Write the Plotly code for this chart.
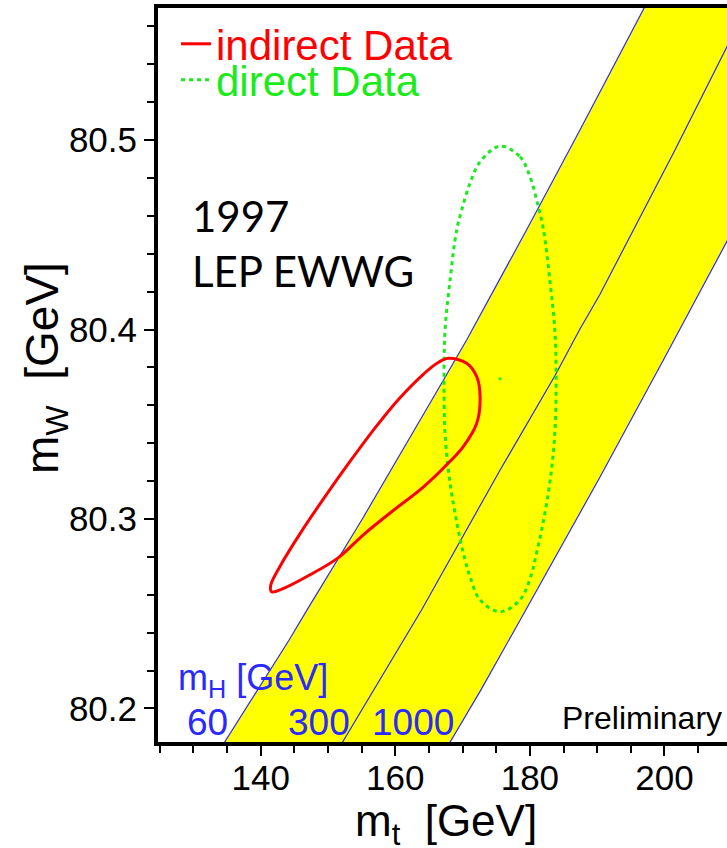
import plotly.graph_objects as go

# ---- data -------------------------------------------------------------
# SM prediction bands: m_t (GeV) along each m_H line at the listed m_W (GeV)
mh60_mt = [131.8, 134.6, 144.2, 146.8, 155.1, 163.4, 167.1, 170.6, 179.5, 187.4, 192.9, 196.8, 198.5]
mh60_mw = [80.166, 80.182, 80.236, 80.2515, 80.300, 80.350, 80.373, 80.3945, 80.4525, 80.505, 80.542, 80.569, 80.580]

mh300_mt = [149.6, 152.1, 161.2, 163.9, 175.6, 183.7, 187.4, 190.4, 201.6, 209.0, 212.5]
mh300_mw = [80.167, 80.182, 80.236, 80.252, 80.326, 80.3755, 80.400, 80.4185, 80.495, 80.5475, 80.572]

mh1000_mt = [165.6, 168.1, 172.6, 177.5, 183.3, 190.4, 200.0, 209.2, 228.0]
mh1000_mw = [80.167, 80.182, 80.209, 80.240, 80.277, 80.322, 80.385, 80.446, 80.582]

# indirect (fit) contour
indirect_mt = [172.6, 172.1, 170.1, 167.6, 164.2, 159.7, 155.3, 151.5, 147.3, 143.4, 141.6, 141.5,
               142.9, 145.8, 149.3, 153.3, 157.2, 160.7, 164.2, 166.2, 167.9, 170.6, 172.1, 172.6]
indirect_mw = [80.3645, 80.3505, 80.3382, 80.3285, 80.317, 80.3045, 80.2918, 80.2795, 80.2705, 80.2634,
               80.2616, 80.2652, 80.2752, 80.2920, 80.3105, 80.3305, 80.3490, 80.3640, 80.3765, 80.3822,
               80.3848, 80.3822, 80.3751, 80.3645]

# direct measurement contour and central value
direct_mt = [175.56, 178.53, 180.02, 181.25, 181.99, 183.0, 183.7, 183.9, 183.7, 183.0, 181.9, 180.76,
             180.27, 178.53, 175.56, 172.59, 171.1, 170.36, 169.2, 168.1, 167.4, 167.24, 167.4, 168.1,
             169.12, 169.87, 171.1, 172.59, 175.56]
direct_mw = [80.4968, 80.4912, 80.4806, 80.4648, 80.4534, 80.425, 80.400, 80.374, 80.345, 80.320, 80.297,
             80.2784, 80.2713, 80.2573, 80.2511, 80.2573, 80.2696, 80.2784, 80.297, 80.320, 80.345,
             80.374, 80.400, 80.425, 80.4525, 80.4631, 80.4772, 80.4885, 80.4968]
direct_center_mt = [175.56]
direct_center_mw = [80.374]

# axes
x_range = [124.74, 209.29]
y_range = [80.1823, 80.5697]
x_tickvals = [140, 160, 180, 200]
x_ticktext = ["140", "160", "180", "200"]
y_tickvals = [80.2, 80.3, 80.4, 80.5]
y_ticktext = ["80.2", "80.3", "80.4", "80.5"]

mh_labels = ["60", "300", "1000"]

# ---- styling ----------------------------------------------------------
FONT = "Liberation Sans, Arial, sans-serif"
RED = "#ff0000"
GREEN = "#1aeb1a"
BLUE = "#2a2aff"
YELLOW = "#ffff00"

W, H = 727, 848
ML, MT, MB = 158, 8, 106
PW, PH = W - ML, H - MT - MB


def px(xp):
    return (xp - ML) / PW


def py(yp):
    return (H - MB - yp) / PH


fig = go.Figure()

# yellow band between m_H = 60 and m_H = 1000
fig.add_trace(go.Scatter(
    x=mh60_mt + mh1000_mt[::-1], y=mh60_mw + mh1000_mw[::-1],
    mode="lines", fill="toself", fillcolor=YELLOW,
    line=dict(width=0, color=YELLOW), showlegend=False, hoverinfo="skip"))

for xs, ys in [(mh60_mt, mh60_mw), (mh300_mt, mh300_mw), (mh1000_mt, mh1000_mw)]:
    fig.add_trace(go.Scatter(x=xs, y=ys, mode="lines", line=dict(color=BLUE, width=1.2),
                             showlegend=False, hoverinfo="skip"))

fig.add_trace(go.Scatter(
    x=direct_mt, y=direct_mw, mode="lines", name="direct Data",
    line=dict(color=GREEN, width=3, dash="4px,4px", shape="spline", smoothing=1.0),
    legend="legend2"))

fig.add_trace(go.Scatter(
    x=direct_center_mt, y=direct_center_mw, mode="markers",
    marker=dict(color=GREEN, size=3), showlegend=False))

fig.add_trace(go.Scatter(
    x=indirect_mt, y=indirect_mw, mode="lines", name="indirect Data",
    line=dict(color=RED, width=3, shape="spline", smoothing=1.0),
    legend="legend"))

annotations = [
    dict(text="1997<br>LEP EWWG", x=px(190), y=py(243), xanchor="left", yanchor="middle",
         align="left", font=dict(family="Lato, Open Sans, sans-serif", size=42, color="black")),
    dict(text="Preliminary", x=px(724), y=py(718), xanchor="right", yanchor="middle",
         font=dict(family=FONT, size=32, color="black")),
    dict(text="m<sub>H</sub> [GeV]", x=px(176), y=py(680), xanchor="left", yanchor="middle",
         font=dict(family=FONT, size=36, color=BLUE)),
    dict(text="m<sub>W</sub>  [GeV]", x=px(45), y=py(368), textangle=-90,
         xanchor="center", yanchor="middle", font=dict(family=FONT, size=46, color="black")),
    dict(text="m<sub>t</sub>  [GeV]", x=px(446), y=py(824), xanchor="center", yanchor="middle",
         font=dict(family=FONT, size=44, color="black")),
]
for lab, cx in zip(mh_labels, [207, 319, 413]):
    annotations.append(dict(text=lab, x=px(cx), y=py(722), xanchor="center", yanchor="middle",
                            font=dict(family=FONT, size=37, color=BLUE)))
for a in annotations:
    a.update(xref="paper", yref="paper", showarrow=False)

fig.update_layout(
    width=W, height=H,
    margin=dict(l=ML, r=0, t=MT, b=MB, pad=0),
    paper_bgcolor="white", plot_bgcolor="white",
    font=dict(family=FONT, color="black"),
    annotations=annotations,
    legend=dict(x=px(176), y=py(10), xanchor="left", yanchor="top",
                bgcolor="rgba(0,0,0,0)", font=dict(family=FONT, size=42, color=RED)),
    legend2=dict(x=px(176), y=py(46), xanchor="left", yanchor="top",
                 bgcolor="rgba(0,0,0,0)", font=dict(family=FONT, size=42, color=GREEN)),
    xaxis=dict(range=x_range, showgrid=False, zeroline=False,
               showline=True, linewidth=4, linecolor="black", mirror=True,
               tickmode="array", tickvals=x_tickvals, ticktext=x_ticktext,
               ticks="outside", ticklen=10, tickwidth=1.5, tickcolor="black",
               ticklabelstandoff=-8,
               minor=dict(tickmode="linear", tick0=0, dtick=5, ticks="outside",
                          ticklen=7, tickwidth=1.5, tickcolor="black"),
               tickfont=dict(family=FONT, size=35, color="black")),
    yaxis=dict(range=y_range, showgrid=False, zeroline=False,
               showline=True, linewidth=4, linecolor="black", mirror=False,
               tickmode="array", tickvals=y_tickvals, ticktext=y_ticktext,
               ticks="outside", ticklen=10, tickwidth=1.5, tickcolor="black",
               minor=dict(tickmode="linear", tick0=80.2, dtick=0.02, ticks="outside",
                          ticklen=7, tickwidth=1.5, tickcolor="black"),
               tickfont=dict(family=FONT, size=35, color="black")),
)

fig.write_html("out.html")
